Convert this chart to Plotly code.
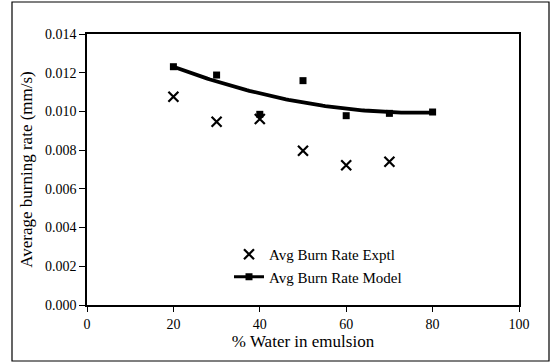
import numpy as np
import plotly.graph_objects as go

water_pct = [20, 30, 40, 50, 60, 70]
burn_exptl = [0.01076, 0.00947, 0.00961, 0.00797, 0.00722, 0.00740]

water_pct_model = [20, 30, 40, 50, 60, 70, 80]
burn_model = [0.01231, 0.01188, 0.00985, 0.01159, 0.00978, 0.00990, 0.00997]

x_ticks = [0, 20, 40, 60, 80, 100]
y_ticks = [0.000, 0.002, 0.004, 0.006, 0.008, 0.010, 0.012, 0.014]

# polynomial (2nd order) trendline through the model series
coef = np.polyfit(water_pct_model, burn_model, 2)
xs = np.linspace(min(water_pct_model), max(water_pct_model), 100)
ys = np.polyval(coef, xs)

FONT = "Liberation Serif"

fig = go.Figure()
fig.add_trace(go.Scatter(
    x=water_pct, y=burn_exptl, mode="markers", name="Avg Burn Rate Exptl",
    marker=dict(symbol="x-thin", size=10, color="black", line=dict(width=2.2, color="black")),
))
fig.add_trace(go.Scatter(
    x=xs, y=ys, mode="lines", showlegend=False,
    line=dict(color="black", width=3.8), hoverinfo="skip",
))
fig.add_trace(go.Scatter(
    x=water_pct_model, y=burn_model, mode="markers", showlegend=False,
    marker=dict(symbol="square", size=7, color="black"),
))
# legend entry for model (line + square)
fig.add_trace(go.Scatter(
    x=[None], y=[None], mode="lines+markers", name="Avg Burn Rate Model",
    line=dict(color="black", width=3), marker=dict(symbol="square", size=7, color="black"),
))

fig.update_layout(
    width=556, height=363,
    margin=dict(l=87, r=37, t=34, b=58),
    paper_bgcolor="white", plot_bgcolor="white",
    font=dict(family=FONT, size=14, color="black"),
    showlegend=True,
    legend=dict(x=(229 - 87) / 432, y=(305 - 238) / 271, xanchor="left", yanchor="top",
                bgcolor="rgba(0,0,0,0)", font=dict(family=FONT, size=15),
                tracegroupgap=0),
    xaxis=dict(range=[0, 100], tickvals=x_ticks, ticks="outside", ticklen=5,
               tickcolor="black", showline=True, linecolor="black", linewidth=1.5,
               mirror=True, showgrid=False, zeroline=False,
               title=dict(text="% Water in emulsion", standoff=5),
               tickfont=dict(size=14)),
    yaxis=dict(range=[0, 0.014], tickvals=y_ticks, tickformat=".3f", ticks="outside",
               ticklen=6, tickcolor="black", showline=True, linecolor="black",
               linewidth=1.5, mirror=True, showgrid=False, zeroline=False,
               title=dict(text="Average burning rate (mm/s)", standoff=8),
               tickfont=dict(size=14)),
    shapes=[dict(type="rect", xref="paper", yref="paper",
                 x0=(12 - 87) / 432, x1=(549 - 87) / 432,
                 y0=(305 - 361) / 271, y1=(305 - 2) / 271,
                 line=dict(color="black", width=1.2), layer="below")],
)

fig.write_html("out.html", config={"displayModeBar": False},
               post_script="document.body.style.margin='0';")
